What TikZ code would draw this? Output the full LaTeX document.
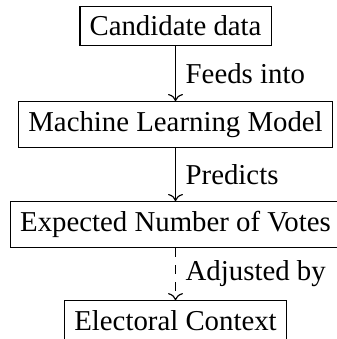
\documentclass[tikz,border=0pt]{standalone}
\usepackage{fontspec}
\setmainfont{Liberation Serif}
\usetikzlibrary{arrows.meta}
\begin{document}
\begin{tikzpicture}[
  box/.style={draw, line width=0.4pt, inner sep=0.3333em},
  flow/.style={->, line width=0.4pt},
  lbl/.style={right, inner sep=0.3333em}
]
\useasboundingbox (0,0) rectangle (116.67pt,-117.7pt);
\node[box] (cand) at (60.94pt,-9.0pt) {Candidate data};
\node[box] (ml) at (60.94pt,-43.2pt) {Machine Learning Model};
\node[box] (exp) at (60.94pt,-77.95pt) {Expected Number of Votes};
\node[box] (ctx) at (60.94pt,-111.3pt) {Electoral Context};
\draw[flow] (cand) -- node[lbl] {Feeds into} (ml);
\draw[flow] (ml) -- node[lbl] {Predicts} (exp);
\draw[flow, dashed] (exp) -- node[lbl] {Adjusted by} (ctx);
\end{tikzpicture}
\end{document}
